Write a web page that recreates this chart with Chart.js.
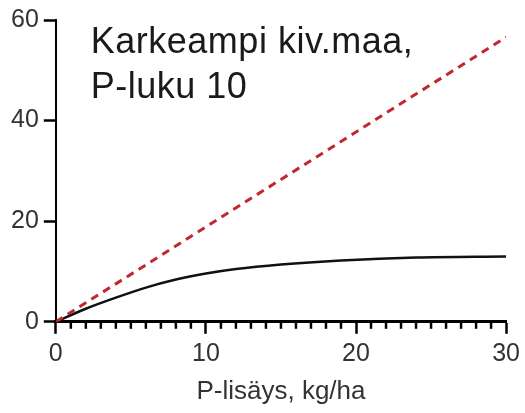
<!DOCTYPE html>
<html lang="fi">
<head>
    <meta charset="UTF-8">
    <title>Karkeampi kiv.maa, P-luku 10</title>
    <script src="https://cdn.jsdelivr.net/npm/chart.js"></script>
    <style>
        body {
            margin: 0;
            padding: 0;
            background-color: #ffffff;
        }

        .chart-container {
            width: 525px;
            height: 413px;
        }
    </style>
</head>
<body>
    <div class="chart-container">
        <canvas id="pChart"></canvas>
    </div>
    <script>
        const titleLines = ['Karkeampi kiv.maa,', 'P-luku 10'];
        const xTitle = 'P-lisäys, kg/ha';

        // P-lisäys, kg/ha
        const curveX = [0, 2, 4, 6, 8, 10, 12, 15, 19, 24, 30];
        // vaste (musta käyrä)
        const curveY = [0, 2.6, 4.8, 6.8, 8.4, 9.6, 10.5, 11.4, 12.2, 12.8, 13.0];
        // suora (punainen katkoviiva)
        const lineX = [0, 30];
        const lineY = [0, 56.6];

        const yTicks = [0, 20, 40, 60];

        const fontFamily = '"Liberation Sans", Arial, sans-serif';

        function toPoints(xs, ys) {
            return xs.map((x, i) => ({ x: x, y: ys[i] }));
        }

        // lyhyet väliviivat x-akselille
        const minorTicks = {
            id: 'minorTicks',
            afterDraw(chart) {
                const ctx = chart.ctx;
                const xs = chart.scales.x;
                const y0 = chart.scales.y.getPixelForValue(0);
                ctx.save();
                ctx.strokeStyle = '#000';
                ctx.lineWidth = 2.5;
                for (let v = 1; v < 30; v++) {
                    if (v % 10 === 0) continue;
                    const px = xs.getPixelForValue(v);
                    ctx.beginPath();
                    ctx.moveTo(px, y0);
                    ctx.lineTo(px, y0 + 7);
                    ctx.stroke();
                }
                ctx.restore();
            }
        };

        const panelTitle = {
            id: 'panelTitle',
            afterDraw(chart) {
                const ctx = chart.ctx;
                const a = chart.chartArea;
                ctx.save();
                ctx.fillStyle = '#1a1a1a';
                ctx.font = '36px ' + fontFamily;
                ctx.letterSpacing = '0.5px';
                ctx.textBaseline = 'alphabetic';
                ctx.fillText(titleLines[0], a.left + 35, 53);
                ctx.fillText(titleLines[1], a.left + 35, 98);
                ctx.restore();
            }
        };

        const ctx = document.getElementById('pChart').getContext('2d');
        new Chart(ctx, {
            type: 'scatter',
            data: {
                datasets: [
                    {
                        label: 'suora',
                        data: toPoints(lineX, lineY),
                        showLine: true,
                        borderColor: '#c1272d',
                        borderWidth: 3,
                        borderDash: [8, 6],
                        pointRadius: 0
                    },
                    {
                        label: 'vaste',
                        data: toPoints(curveX, curveY),
                        showLine: true,
                        borderColor: '#111',
                        borderWidth: 2.5,
                        cubicInterpolationMode: 'monotone',
                        pointRadius: 0
                    }
                ]
            },
            options: {
                responsive: true,
                maintainAspectRatio: false,
                animation: false,
                layout: {
                    padding: { top: 8, right: -3, left: 6, bottom: 2 }
                },
                plugins: {
                    legend: { display: false },
                    tooltip: { enabled: false }
                },
                scales: {
                    x: {
                        type: 'linear',
                        min: 0,
                        max: 30,
                        border: { display: true, color: '#000', width: 3 },
                        grid: {
                            drawOnChartArea: false,
                            drawTicks: true,
                            tickLength: 12,
                            tickWidth: 2.5,
                            tickColor: '#000'
                        },
                        ticks: {
                            stepSize: 10,
                            color: '#333',
                            padding: 5,
                            font: { family: fontFamily, size: 25 }
                        },
                        title: {
                            display: true,
                            text: xTitle,
                            color: '#333',
                            padding: { top: 2 },
                            font: { family: fontFamily, size: 26 }
                        }
                    },
                    y: {
                        type: 'linear',
                        min: 0,
                        max: 60,
                        afterBuildTicks(scale) {
                            scale.ticks = yTicks.map(v => ({ value: v }));
                        },
                        border: { display: true, color: '#000', width: 2 },
                        grid: {
                            drawOnChartArea: false,
                            drawTicks: true,
                            tickLength: 12,
                            tickWidth: 2.5,
                            tickColor: '#000'
                        },
                        ticks: {
                            color: '#333',
                            padding: 5,
                            font: { family: fontFamily, size: 25 }
                        }
                    }
                }
            },
            plugins: [minorTicks, panelTitle]
        });
    </script>
</body>
</html>
